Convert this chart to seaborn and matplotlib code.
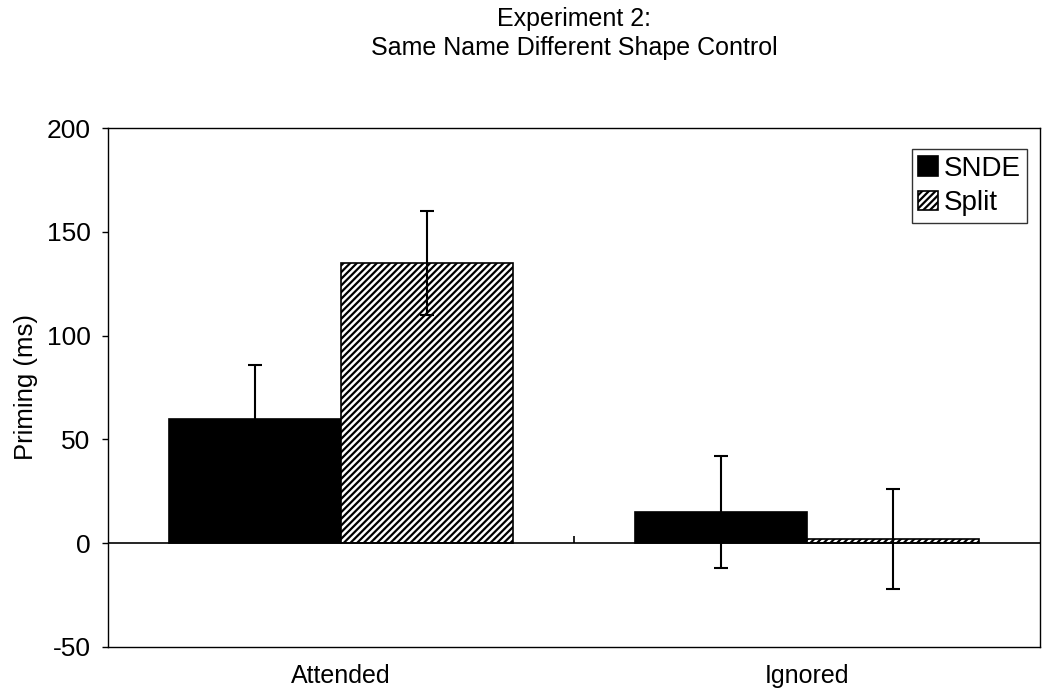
import matplotlib
matplotlib.use("Agg")
import matplotlib.pyplot as plt
import seaborn as sns
import pandas as pd

# Mean priming (ms) and error-bar half-widths per condition and group
conditions = ["Attended", "Ignored"]
groups = ["SNDE", "Split"]
snde_priming = [60, 15]
split_priming = [135, 2]
snde_error = [26, 27]
split_error = [25, 24]
y_ticks = [-50, 0, 50, 100, 150, 200]

sns.set_style("white")
plt.rcParams["font.family"] = ["Liberation Sans", "DejaVu Sans"]
plt.rcParams["text.color"] = "black"
plt.rcParams["axes.labelcolor"] = "black"
plt.rcParams["xtick.color"] = "black"
plt.rcParams["ytick.color"] = "black"
plt.rcParams["hatch.linewidth"] = 1.6
plt.rcParams["hatch.color"] = "black"

df = pd.DataFrame({
    "condition": conditions * 2,
    "group": [groups[0]] * 2 + [groups[1]] * 2,
    "priming": snde_priming + split_priming,
})

fig = plt.figure(figsize=(10.43, 6.97), dpi=100)
ax = fig.add_axes([108 / 1043, 1 - 647 / 697, (1040 - 108) / 1043, (647 - 128) / 697])

sns.barplot(data=df, x="condition", y="priming", hue="group",
            order=conditions, hue_order=groups,
            palette=["black", "white"], width=0.74, errorbar=None,
            edgecolor="black", linewidth=1.2, ax=ax, legend=False)

# Diagonal hatching for the Split bars
for patch in ax.containers[1]:
    patch.set_hatch("/////")

# Error bars centred on each bar
for container, means, errs in zip(ax.containers,
                                  [snde_priming, split_priming],
                                  [snde_error, split_error]):
    xs = [p.get_x() + p.get_width() / 2 for p in container]
    ax.errorbar(xs, means, yerr=errs, fmt="none", ecolor="black",
                elinewidth=1.5, capsize=5, capthick=1.5, zorder=5)

# Category axis at zero with a divider tick between the groups
ax.axhline(0, color="black", lw=1.2, zorder=1)
ax.vlines(0.5, 0, 3.5, color="black", lw=1.2)

ax.set_ylim(-50, 200)
ax.set_xlim(-0.5, 1.5)
ax.set_yticks(y_ticks)
ax.set_yticklabels([str(v) for v in y_ticks], fontsize=19)
ax.tick_params(axis="y", direction="out", length=4.5, width=1, color="black", pad=8, left=True)
ax.tick_params(axis="x", length=0, pad=12, labelsize=18)
ax.set_xlabel("")
ax.set_ylabel("Priming (ms)", fontsize=18.5, labelpad=6)

for side in ["left", "right", "top", "bottom"]:
    ax.spines[side].set_visible(True)
    ax.spines[side].set_color("black")
    ax.spines[side].set_linewidth(1)

leg = ax.legend([c[0] for c in ax.containers], groups, loc="upper right",
                bbox_to_anchor=(0.9865, 0.96), fontsize=20, frameon=True,
                fancybox=False, edgecolor="black", handlelength=0.7,
                handleheight=0.7, handletextpad=0.2, borderpad=0.25,
                labelspacing=0.3, borderaxespad=0)
leg.get_frame().set_linewidth(1)

fig.suptitle("Experiment 2:\nSame Name Different Shape Control",
             x=(108 + 1040) / 2 / 1043, y=0.99, fontsize=18, linespacing=1.25)

fig.savefig("out.png", dpi=100)
